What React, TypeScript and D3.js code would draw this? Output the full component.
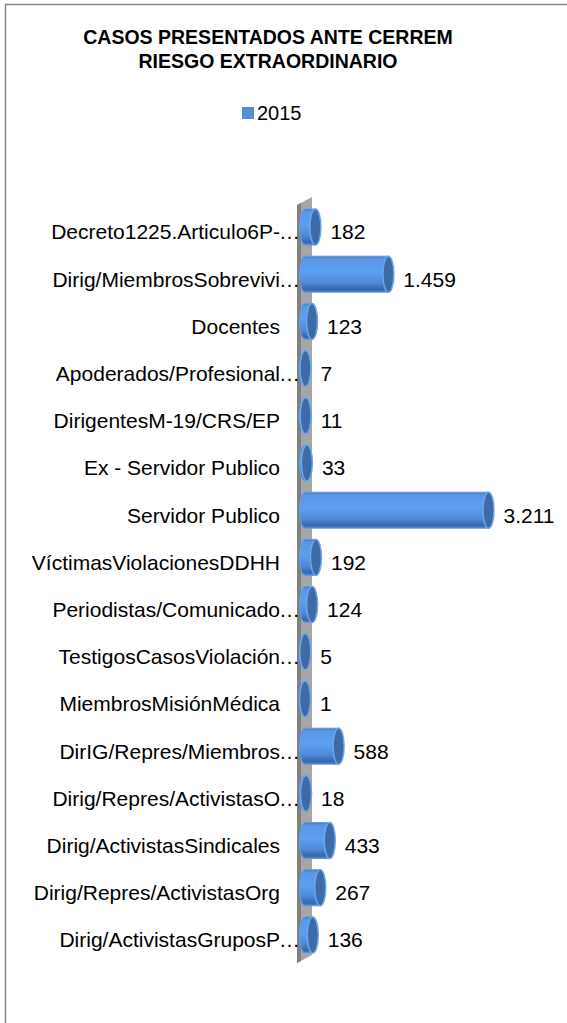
import React, { useRef, useEffect } from 'react';
import * as d3 from 'd3';

const categories = [
  'Decreto1225.Articulo6P-…',
  'Dirig/MiembrosSobrevivi…',
  'Docentes',
  'Apoderados/Profesional…',
  'DirigentesM-19/CRS/EP',
  'Ex - Servidor Publico',
  'Servidor Publico',
  'VíctimasViolacionesDDHH',
  'Periodistas/Comunicado…',
  'TestigosCasosViolación…',
  'MiembrosMisiónMédica',
  'DirIG/Repres/Miembros…',
  'Dirig/Repres/ActivistasO…',
  'Dirig/ActivistasSindicales',
  'Dirig/Repres/ActivistasOrg',
  'Dirig/ActivistasGruposP…',
];
const values2015 = [182, 1459, 123, 7, 11, 33, 3211, 192, 124, 5, 1, 588, 18, 433, 267, 136];
const seriesName = '2015';
const titleLines = ['CASOS PRESENTADOS ANTE CERREM', 'RIESGO EXTRAORDINARIO'];

const W = 567;
const H = 1023;
const FONT = "'Liberation Sans', Arial, sans-serif";

const App = () => {
  const svgRef = useRef(null);

  useEffect(() => {
    const svg = d3.select(svgRef.current);
    svg.selectAll('*').remove();

    svg.attr('width', W).attr('height', H).style('background', '#fff');

    const defs = svg.append('defs');
    const grad = defs.append('linearGradient')
      .attr('id', 'cyl')
      .attr('x1', 0).attr('y1', 0).attr('x2', 0).attr('y2', 1);
    [
      [0, '#3f78c4'], [0.08, '#5a98e6'], [0.45, '#5d9ff0'],
      [0.75, '#4d88d6'], [0.92, '#3766a8'], [1, '#4f86cf'],
    ].forEach(([o, c]) => grad.append('stop').attr('offset', o).attr('stop-color', c));

    // chart frame (cropped on right and bottom)
    svg.append('rect')
      .attr('x', 5.5).attr('y', 4.5)
      .attr('width', 700).attr('height', 1200)
      .attr('fill', 'none').attr('stroke', '#888').attr('stroke-width', 1.5);

    // title
    svg.append('text')
      .attr('x', 268).attr('text-anchor', 'middle')
      .style('font-family', FONT).style('font-weight', 'bold').style('font-size', '19.5px')
      .selectAll('tspan').data(titleLines).enter().append('tspan')
      .attr('x', 268).attr('y', (d, i) => 44 + i * 24)
      .text(d => d);

    // legend
    svg.append('rect').attr('x', 242).attr('y', 107).attr('width', 12).attr('height', 12).attr('fill', '#558ed5');
    svg.append('text').attr('x', 257).attr('y', 120)
      .style('font-family', FONT).style('font-size', '20px').text(seriesName);

    const y = d3.scaleBand().domain(categories).range([208.4, 963.6]);
    const x = d3.scaleLinear().domain([0, 3500]).range([305, 505]);
    const rx = 5.5;
    const ry = 18;

    // back wall
    svg.append('polygon')
      .attr('points', '297,205 312,197 312,955 297,963')
      .attr('fill', '#a6a6a6');
    svg.append('polygon')
      .attr('points', '297,205 301,203 301,961 297,963')
      .attr('fill', '#808080');

    // category labels
    const labels = svg.append('g').style('font-family', FONT).style('font-size', '21px');
    categories.forEach(c => {
      const cy = y(c) + y.bandwidth() / 2;
      const cut = c.endsWith('…');
      const stem = cut ? c.slice(0, -1) : c;
      labels.append('text').attr('x', 280).attr('y', cy).attr('dy', '0.35em')
        .attr('text-anchor', 'end').text(stem);
      if (cut) {
        labels.append('text').attr('x', 279).attr('y', cy).attr('dy', '0.35em').text('…');
      }
    });

    // cylinders
    const bars = svg.append('g');
    categories.forEach((c, i) => {
      const v = values2015[i];
      const cy = y(c) + y.bandwidth() / 2 - 5;
      const x0 = x(0);
      const x1 = x(v);
      const top = cy - ry;
      const bot = cy + ry;
      bars.append('path')
        .attr('d', `M${x0},${top}L${x1},${top}L${x1},${bot}L${x0},${bot}A${rx},${ry} 0 0 1 ${x0},${top}Z`)
        .attr('fill', 'url(#cyl)').attr('stroke', '#5f9be6').attr('stroke-width', 1);
      bars.append('ellipse')
        .attr('cx', x1).attr('cy', cy).attr('rx', rx).attr('ry', ry)
        .attr('fill', '#3e6aa5').attr('stroke', '#69a6f2').attr('stroke-width', 1.5);
    });

    // value labels
    const fmt = d3.formatLocale({ decimal: ',', thousands: '.', grouping: [3], currency: ['', ''] }).format(',d');
    const vals = svg.append('g').style('font-family', FONT).style('font-size', '21px');
    categories.forEach((c, i) => {
      const v = values2015[i];
      vals.append('text')
        .attr('x', x(v) + 15)
        .attr('y', y(c) + y.bandwidth() / 2)
        .attr('dy', '0.35em')
        .text(fmt(v));
    });
  }, []);

  return <svg ref={svgRef} style={{ position: 'absolute', left: 0, top: 0 }}></svg>;
};

export default App;
